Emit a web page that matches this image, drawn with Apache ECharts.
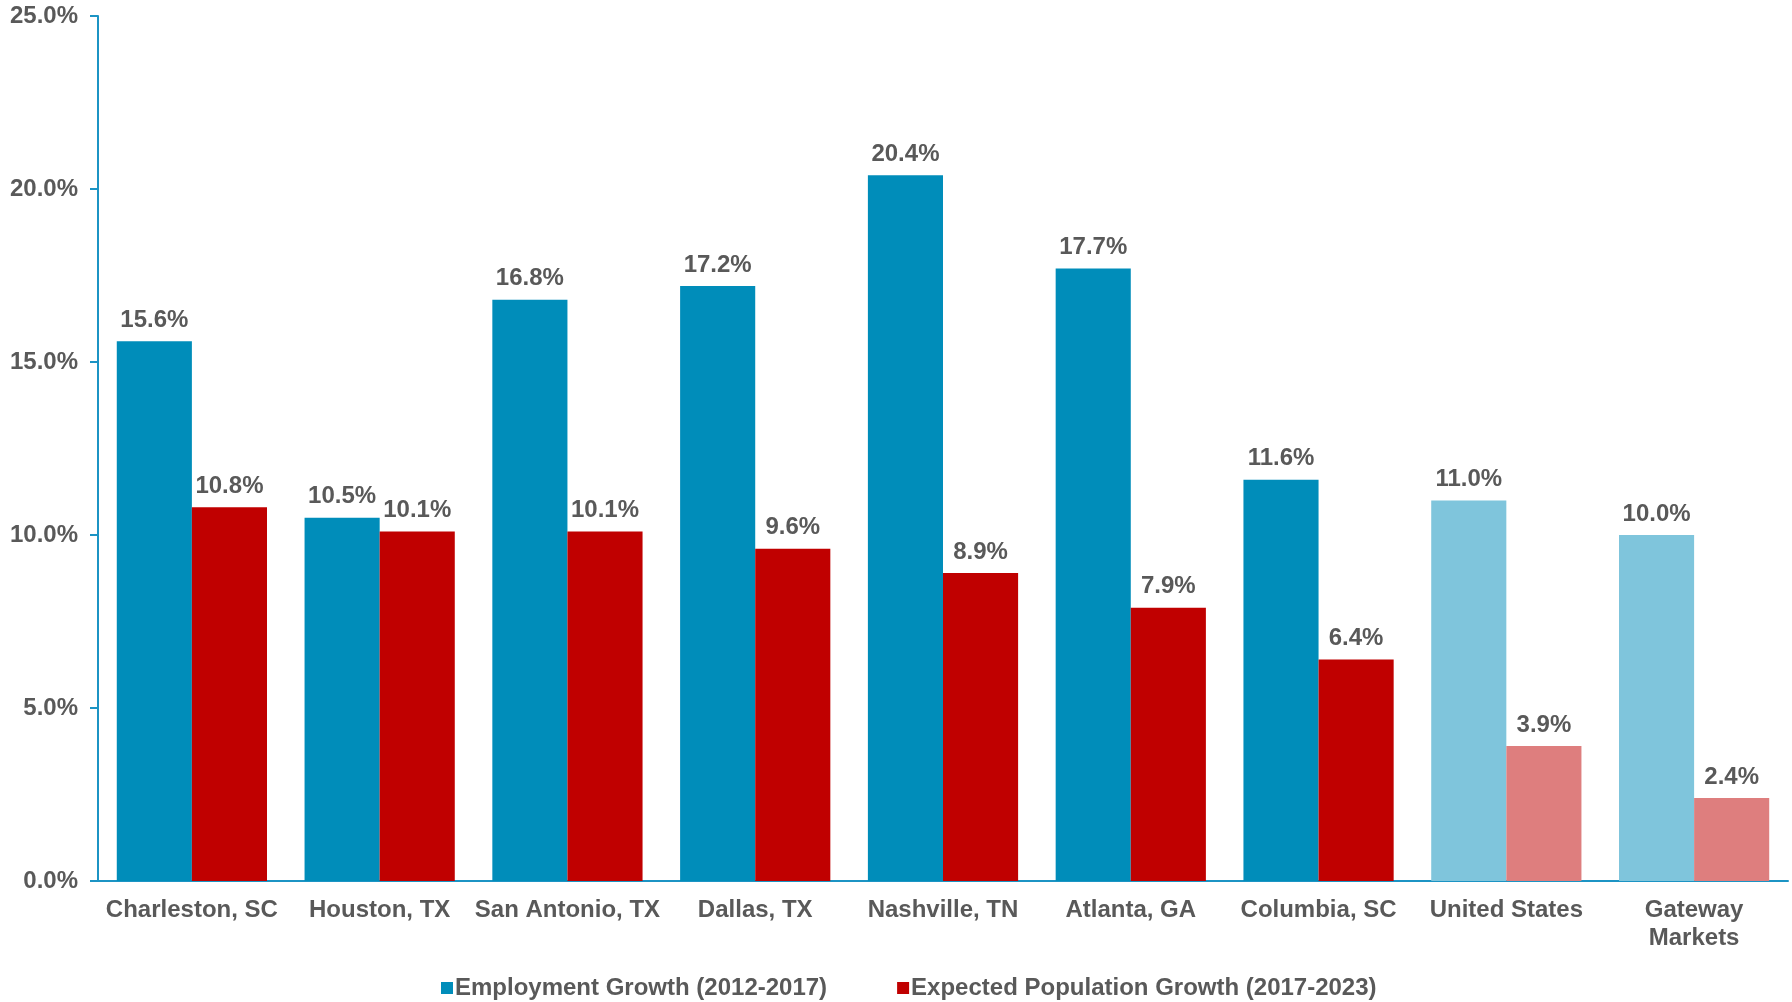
<!DOCTYPE html>
<html><head><meta charset="utf-8">
<script src="https://cdn.jsdelivr.net/npm/echarts@6/dist/echarts.min.js"></script>
<style>html,body{margin:0;padding:0;background:#fff}#c{width:1792px;height:1002px}</style>
</head><body><div id="c"></div>
<script>
const categories = ['Charleston, SC','Houston, TX','San Antonio, TX','Dallas, TX','Nashville, TN','Atlanta, GA','Columbia, SC','United States','Gateway\nMarkets'];
const employmentGrowth = [15.6, 10.5, 16.8, 17.2, 20.4, 17.7, 11.6, 11.0, 10.0];
const populationGrowth = [10.8, 10.1, 10.1, 9.6, 8.9, 7.9, 6.4, 3.9, 2.4];
const seriesNames = ['Employment Growth (2012-2017)', 'Expected Population Growth (2017-2023)'];
const benchmarkCount = 2;

const blue = '#008DBA', red = '#C00000', lightBlue = '#7FC5DC', lightRed = '#DE7E7E';
const font = 'Liberation Sans, Arial, sans-serif';
const labelColor = '#595959';

function items(vals, c, lc) {
  return vals.map((v, i) => ({
    value: v,
    itemStyle: { color: i >= vals.length - benchmarkCount ? lc : c }
  }));
}

const chart = echarts.init(document.getElementById('c'), null, {renderer: 'canvas'});
const lbl = {
  show: true, position: 'top', distance: 9,
  color: labelColor, fontFamily: font, fontWeight: 'bold', fontSize: 24,
  formatter: p => p.value.toFixed(1) + '%'
};
chart.setOption({
  animation: false,
  grid: { left: 98, right: 4, top: 16, bottom: 121, containLabel: false },
  legend: {
    bottom: -3, left: 436, itemGap: 70, itemWidth: 12, itemHeight: 12,
    icon: 'rect',
    textStyle: { color: labelColor, fontFamily: 'Liberation Sans Narrow, Arial Narrow, ' + font, fontWeight: 'bold', fontSize: 24, padding: [0,0,0,-3] },
    data: [
      { name: seriesNames[0], itemStyle: { color: blue } },
      { name: seriesNames[1], itemStyle: { color: red } }
    ]
  },
  xAxis: {
    type: 'category', data: categories,
    axisLine: { lineStyle: { color: '#1C94C4', width: 2 } },
    axisTick: { show: false },
    axisLabel: { color: labelColor, fontFamily: font, fontWeight: 'bold', fontSize: 24, margin: 15, lineHeight: 28, interval: 0 }
  },
  yAxis: {
    type: 'value', min: 0, max: 25, interval: 5,
    axisLine: { show: true, lineStyle: { color: '#1C94C4', width: 2 } },
    axisTick: { show: true, length: 8, lineStyle: { color: '#1C94C4', width: 2 } },
    splitLine: { show: false },
    axisLabel: { color: labelColor, fontFamily: font, fontWeight: 'bold', fontSize: 24, margin: 20, formatter: v => v.toFixed(1) + '%' }
  },
  series: [
    { name: seriesNames[0], type: 'bar', data: items(employmentGrowth, blue, lightBlue), barGap: '0%', barCategoryGap: '20%', label: lbl, itemStyle: { color: blue } },
    { name: seriesNames[1], type: 'bar', data: items(populationGrowth, red, lightRed), barGap: '0%', barCategoryGap: '20%', label: lbl, itemStyle: { color: red } }
  ]
});
</script></body></html>
